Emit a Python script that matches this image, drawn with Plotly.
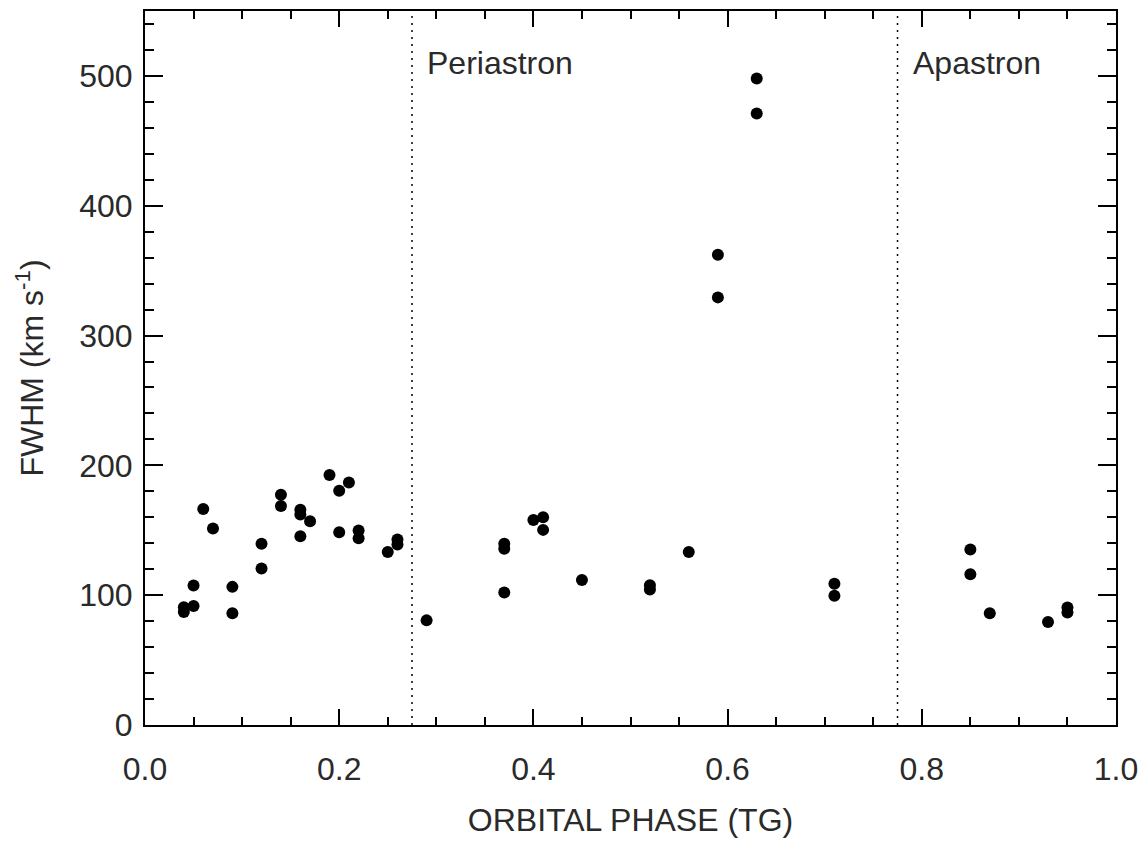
import plotly.graph_objects as go

phase = [0.04, 0.04, 0.05, 0.05, 0.06, 0.07, 0.09, 0.09, 0.12, 0.12,
         0.14, 0.14, 0.16, 0.16, 0.16, 0.17, 0.19, 0.20, 0.20, 0.21,
         0.22, 0.22, 0.25, 0.26, 0.26, 0.29, 0.37, 0.37, 0.37, 0.40,
         0.41, 0.41, 0.45, 0.52, 0.52, 0.56, 0.59, 0.59, 0.63, 0.63,
         0.71, 0.71, 0.85, 0.85, 0.87, 0.93, 0.95, 0.95]
fwhm = [90.8, 87.0, 91.6, 107.4, 166.4, 151.3, 106.4, 86.0, 120.5, 139.6,
        177.4, 168.7, 165.9, 162.1, 145.4, 156.9, 192.5, 180.5, 148.5, 186.8,
        149.8, 143.9, 133.2, 142.9, 139.1, 80.6, 139.6, 135.8, 102.0, 158.0,
        160.0, 150.3, 111.7, 107.7, 104.3, 133.2, 362.3, 329.4, 498.0, 471.0,
        108.8, 99.5, 135.2, 116.1, 86.0, 79.3, 90.6, 86.7]

event_phase = [0.275, 0.775]
event_label = ["Periastron", "Apastron"]

FONT = "Liberation Sans, Arial, Helvetica, sans-serif"
TXT = "#2a2a2a"
FS = 32

fig = go.Figure()
fig.add_trace(go.Scatter(
    x=phase, y=fwhm, mode="markers",
    marker=dict(color="black", size=12, line=dict(width=0)),
    showlegend=False, hoverinfo="x+y"))

for xp, lab in zip(event_phase, event_label):
    fig.add_shape(type="line", xref="x", yref="paper", x0=xp, x1=xp, y0=0, y1=1,
                  line=dict(color="black", width=1.5, dash="2px,5px"))
    fig.add_annotation(x=xp, y=500, xref="x", yref="y", text=lab, showarrow=False,
                       xanchor="left", xshift=13, yanchor="middle", yshift=13,
                       font=dict(family=FONT, size=FS, color=TXT))

axis_common = dict(
    showline=True, linecolor="black", linewidth=2, mirror="allticks",
    ticks="inside", tickcolor="black", tickwidth=1.5,
    showgrid=False, zeroline=False,
    tickfont=dict(family=FONT, size=FS, color=TXT),
)

fig.update_xaxes(range=[0, 1], dtick=0.2, tick0=0, ticklen=16, tickformat=".1f",
                 ticklabelstandoff=15,
                 minor=dict(dtick=0.05, ticklen=8, ticks="inside", tickcolor="black", tickwidth=1.5),
                 title=dict(text="ORBITAL PHASE (TG)", font=dict(family=FONT, size=FS, color=TXT), standoff=22),
                 **axis_common)
fig.update_yaxes(range=[0, 550], dtick=100, tick0=0, ticklen=18,
                 ticklabelstandoff=4,
                 minor=dict(dtick=20, ticklen=9, ticks="inside", tickcolor="black", tickwidth=1.5),
                 title=dict(text="FWHM (km s<sup>-1</sup>)", font=dict(family=FONT, size=FS, color=TXT), standoff=26),
                 **axis_common)

fig.update_layout(
    width=1140, height=836,
    margin=dict(l=137, r=32, t=1, b=119),
    plot_bgcolor="white", paper_bgcolor="white",
    font=dict(family=FONT, color=TXT),
)

fig.write_html("out.html")
